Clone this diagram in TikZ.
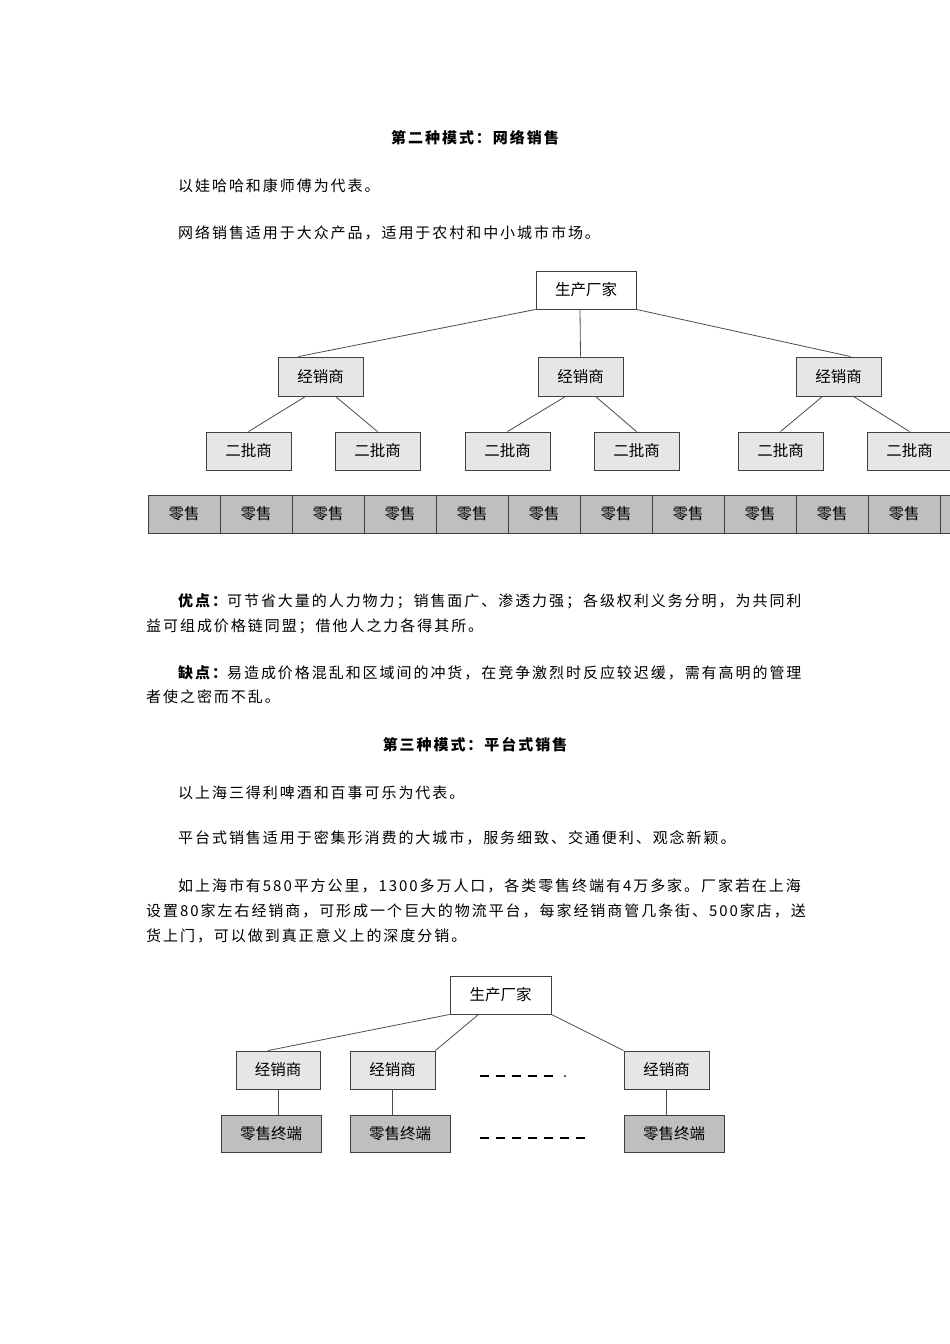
\documentclass[tikz,border=0pt]{standalone}
\usepackage{fontspec}
\newfontfamily\cjk[LetterSpace=13]{Noto Sans CJK SC}
\newfontfamily\cjkbox{Noto Sans CJK SC}
\begin{document}
\begin{tikzpicture}[x=1pt,y=-1pt,
  para/.style={anchor=west,inner sep=0,font=\cjk\fontsize{15}{15}\selectfont},
  ttl/.style={anchor=center,inner sep=0,font=\cjk\bfseries\fontsize{15}{15}\selectfont},
  bx/.style={draw=black!75,line width=0.9pt,inner sep=0,font=\cjkbox\fontsize{15.5}{15.5}\selectfont},
  dealer/.style={bx,fill=green!4!black!10},
  retail/.style={bx,fill=black!25},
  ln/.style={draw=black!70,line width=0.8pt}]
\useasboundingbox (0,0) rectangle (950,1344);
\fill[white] (0,0) rectangle (950,1344);
% texts
\node[ttl] (t1) at (475,138) {第二种模式：网络销售};
\node[para] (p1) at (178,186) {以娃哈哈和康师傅为代表。};
\node[para] (p2) at (178,233) {网络销售适用于大众产品，适用于农村和中小城市市场。};
\node[para] (p3) at (178,601) {{\bfseries 优点：}可节省大量的人力物力；销售面广、渗透力强；各级权利义务分明，为共同利};
\node[para] (p4) at (146,626) {益可组成价格链同盟；借他人之力各得其所。};
\node[para] (p5) at (178,673) {{\bfseries 缺点：}易造成价格混乱和区域间的冲货，在竞争激烈时反应较迟缓，需有高明的管理};
\node[para] (p6) at (146,697) {者使之密而不乱。};
\node[ttl] (t2) at (475,745) {第三种模式：平台式销售};
\node[para] (p7) at (178,793) {以上海三得利啤酒和百事可乐为代表。};
\node[para] (p8) at (178,838) {平台式销售适用于密集形消费的大城市，服务细致、交通便利、观念新颖。};
\node[para] (p9) at (178,886) {如上海市有580平方公里，1300多万人口，各类零售终端有4万多家。厂家若在上海};
\node[para] (p10) at (146,911) {设置80家左右经销商，可形成一个巨大的物流平台，每家经销商管几条街、500家店，送};
\node[para] (p11) at (146,936) {货上门，可以做到真正意义上的深度分销。};
% diagram 1
\node[bx,fill=white,minimum width=100pt,minimum height=38pt] (top1) at (586,290) {生产厂家};
\foreach \n/\x in {a/320.5,b/580.5,c/838.5}
  \node[dealer,minimum width=85pt,minimum height=39pt] (d\n) at (\x,376.5) {经销商};
\foreach \n/\x in {1/248.5,2/377.5,3/507.5,4/636.5,5/780.5,6/909.5}
  \node[dealer,minimum width=85pt,minimum height=38pt] (s\n) at (\x,451) {二批商};
\foreach \i in {0,...,10}
  \node[retail,minimum width=72pt,minimum height=38pt] (r\i) at ({184+72*\i},514) {零售};
\node[retail,minimum width=72pt,minimum height=38pt] (r11) at (976,514) {};
\draw[ln] (top1.south west) -- ([xshift=-22pt]da.north);
\draw[ln] ([xshift=-6pt]top1.south) -- (db.north);
\draw[ln] (top1.south east) -- ([xshift=12pt]dc.north);
\draw[ln] ([xshift=-15pt]da.south) -- (s1.north);
\draw[ln] ([xshift=15pt]da.south) -- (s2.north);
\draw[ln] ([xshift=-15pt]db.south) -- (s3.north);
\draw[ln] ([xshift=15pt]db.south) -- (s4.north);
\draw[ln] ([xshift=-16pt]dc.south) -- (s5.north);
\draw[ln] ([xshift=15pt]dc.south) -- (s6.north);
% diagram 2
\node[bx,fill=white,minimum width=101pt,minimum height=38pt] (top2) at (500.5,995) {生产厂家};
\node[dealer,minimum width=84pt,minimum height=38pt] (e1) at (278,1070) {经销商};
\node[dealer,minimum width=85pt,minimum height=38pt] (e2) at (392.5,1070) {经销商};
\node[dealer,minimum width=85pt,minimum height=38pt] (e3) at (666.5,1070) {经销商};
\node[retail,minimum width=100pt,minimum height=37pt] (f1) at (271,1133.5) {零售终端};
\node[retail,minimum width=100pt,minimum height=37pt] (f2) at (400,1133.5) {零售终端};
\node[retail,minimum width=100pt,minimum height=37pt] (f3) at (674,1133.5) {零售终端};
\draw[ln] (top2.south west) -- ([xshift=-10pt]e1.north);
\draw[ln] ([xshift=-22pt]top2.south) -- (e2.north east);
\draw[ln] (top2.south east) -- (e3.north west);
\draw[ln] (e1.south) -- (e1.south |- f1.north);
\draw[ln] (e2.south) -- (e2.south |- f2.north);
\draw[ln] (e3.south) -- (e3.south |- f3.north);
\coordinate (ga) at (480,1076); \coordinate (gb) at (558,1076);
\coordinate (gc) at (480,1138); \coordinate (gd) at (590,1138);
\draw[line width=2pt,dash pattern=on 9pt off 7pt] (ga) -- (gb);
\fill (565,1076) circle (1pt);
\draw[line width=2pt,dash pattern=on 9pt off 7pt] (gc) -- (gd);
\end{tikzpicture}
\end{document}
